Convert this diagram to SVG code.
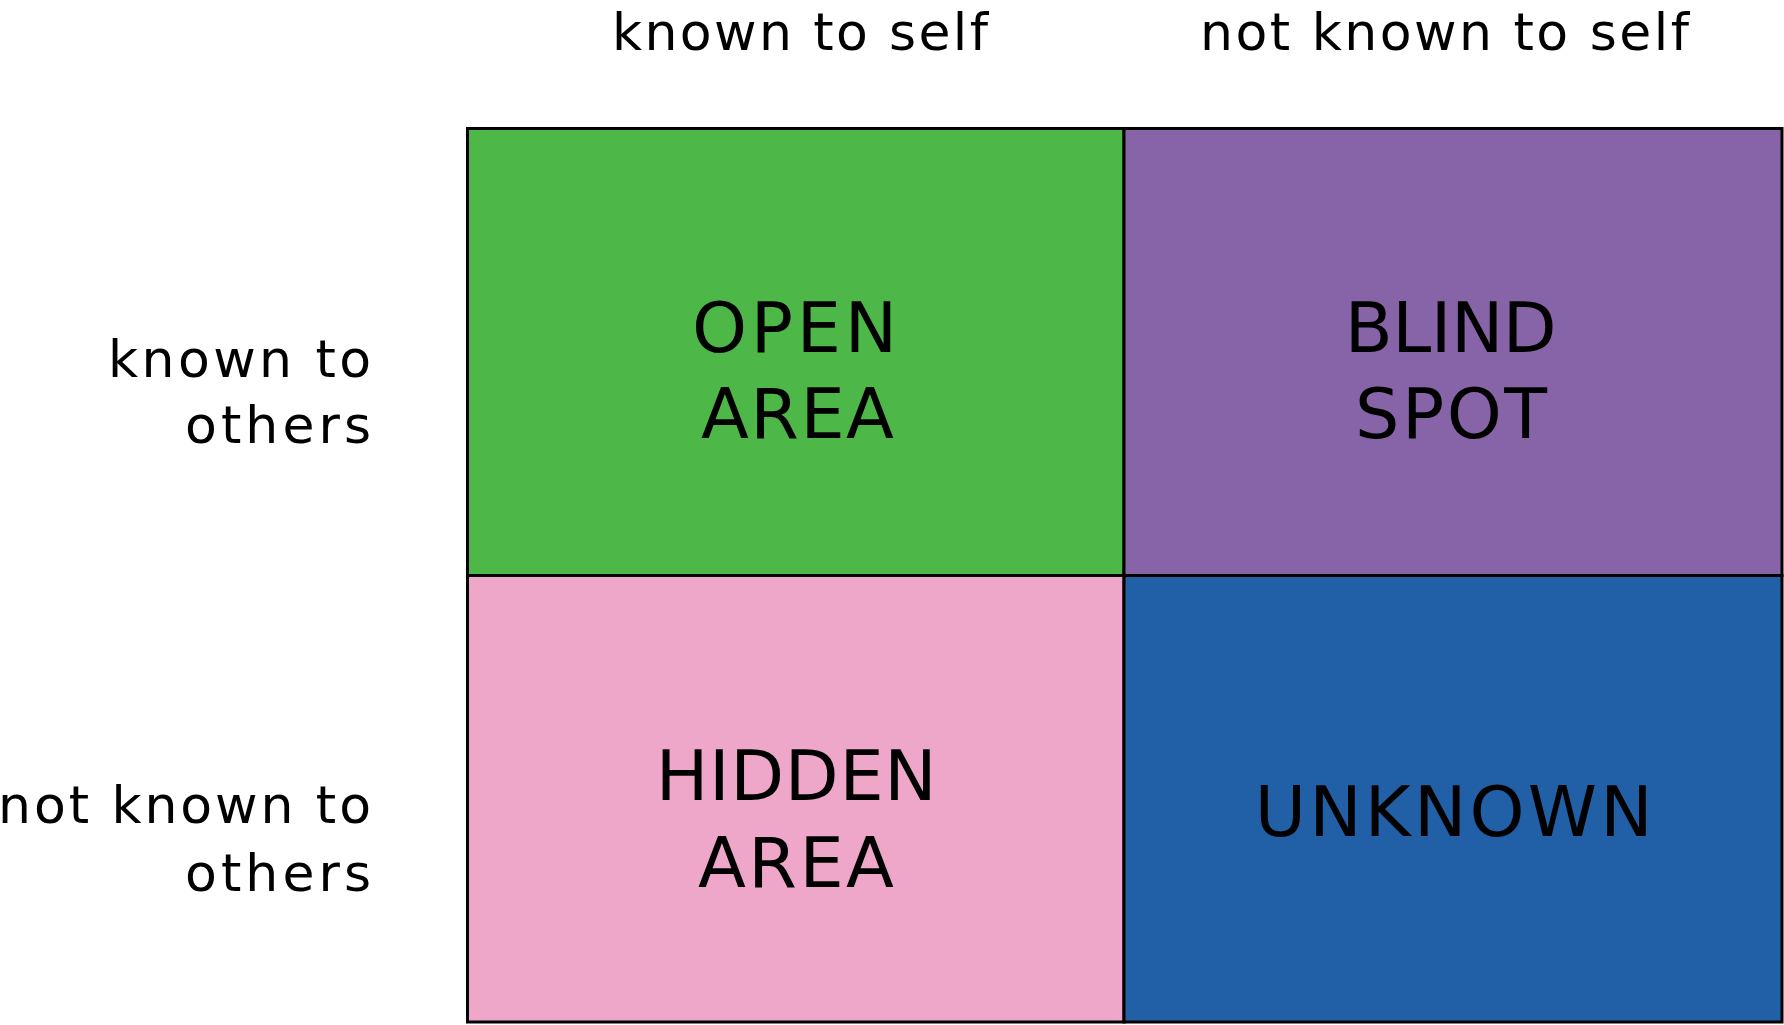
<svg xmlns="http://www.w3.org/2000/svg" width="1784" height="1025" viewBox="0 0 1784 1025">
<style>
.cell{stroke:#000;stroke-width:3}
.lbl{font-family:"DejaVu Sans","Liberation Sans",sans-serif;font-size:52px;fill:#000}
.big{font-family:"DejaVu Sans","Liberation Sans",sans-serif;font-size:70px;fill:#000}
</style>
<rect width="1784" height="1025" fill="#fff"/>
<g id="headers">
<text class="lbl" x="612" y="49.5" textLength="376" lengthAdjust="spacing">known to self</text>
<text class="lbl" x="1200" y="50" textLength="489" lengthAdjust="spacing">not known to self</text>
<text class="lbl" x="108" y="377" textLength="263" lengthAdjust="spacing">known to</text>
<text class="lbl" x="185" y="443" textLength="186" lengthAdjust="spacing">others</text>
<text class="lbl" x="-2" y="823" textLength="373" lengthAdjust="spacing">not known to</text>
<text class="lbl" x="185" y="891" textLength="186" lengthAdjust="spacing">others</text>
</g>
<g id="open-area">
<rect class="cell" x="467.5" y="128.5" width="656.5" height="447" fill="#4db848"/>
<text class="big" x="692" y="352" textLength="205" lengthAdjust="spacing">OPEN</text>
<text class="big" x="701" y="438" textLength="193" lengthAdjust="spacing">AREA</text>
</g>
<g id="blind-spot">
<rect class="cell" x="1124" y="128.5" width="658" height="447" fill="#8764a7"/>
<text class="big" x="1344.7" y="352" textLength="212" lengthAdjust="spacing">BLIND</text>
<text class="big" x="1355" y="438" textLength="192" lengthAdjust="spacing">SPOT</text>
</g>
<g id="hidden-area">
<rect class="cell" x="467.5" y="575.5" width="656.5" height="446.5" fill="#efa7c9"/>
<text class="big" x="655.7" y="799.5" textLength="281" lengthAdjust="spacing">HIDDEN</text>
<text class="big" x="698" y="887" textLength="196" lengthAdjust="spacing">AREA</text>
</g>
<g id="unknown">
<rect class="cell" x="1124" y="575.5" width="658" height="446.5" fill="#2160a7"/>
<text class="big" x="1254.7" y="836" textLength="398" lengthAdjust="spacing">UNKNOWN</text>
</g>
<g id="connectors"></g>
</svg>
